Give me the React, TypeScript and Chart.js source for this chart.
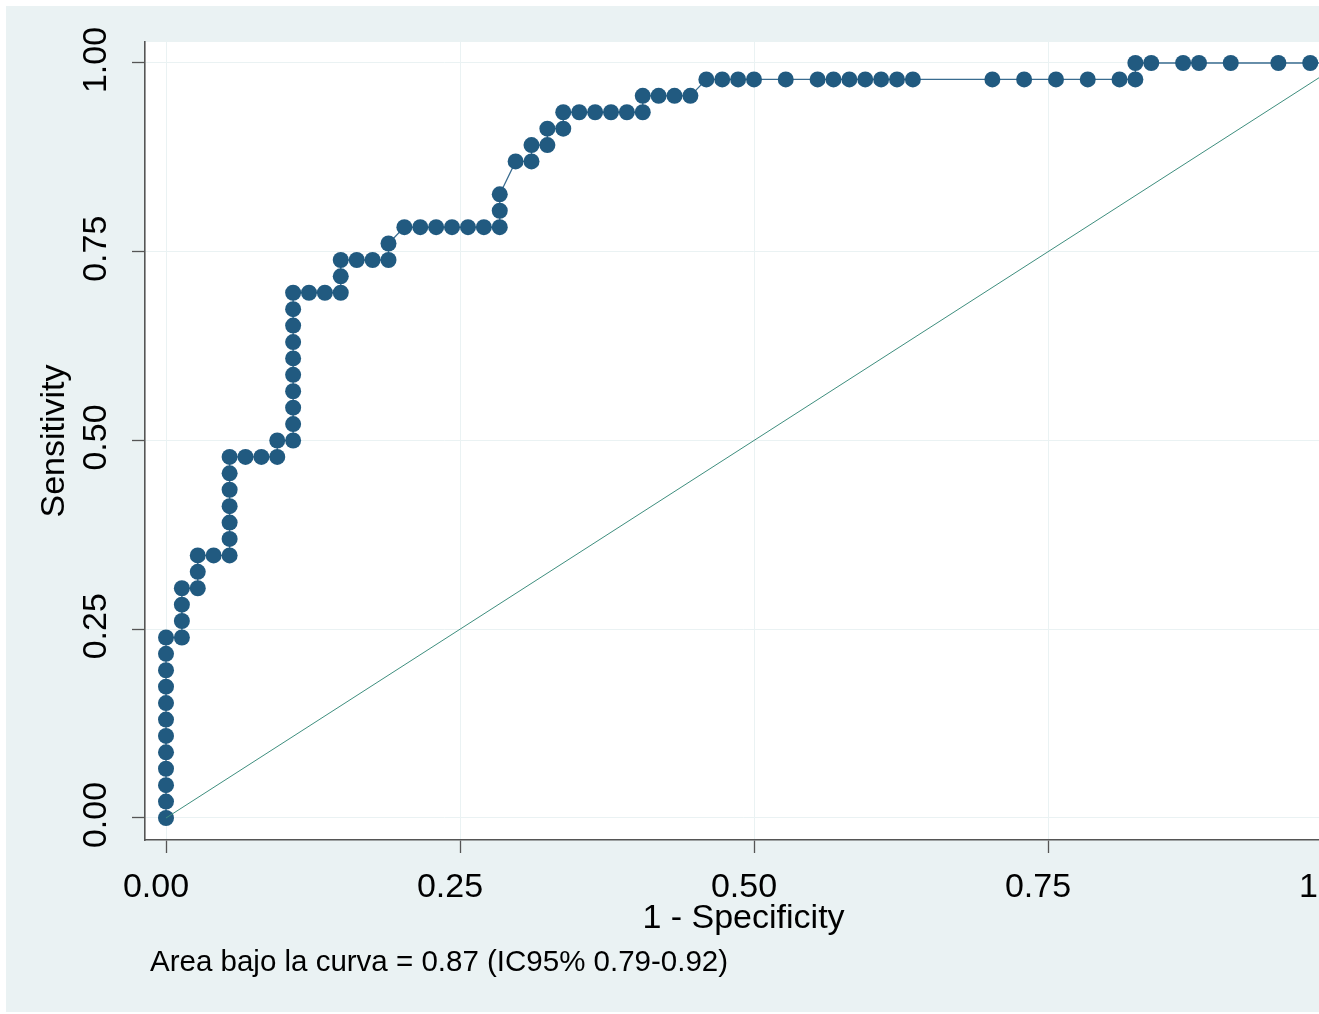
import React, { useEffect, useRef } from "react";
import { Chart, registerables } from "chart.js";

Chart.register(...registerables);

// 1 - Specificity (false positive rate) for each ROC point
const fpr: number[] = [
  0, 0, 0, 0, 0, 0, 0, 0, 0, 0, 0, 0,
  0.0135, 0.0135, 0.0135, 0.0135,
  0.027, 0.027, 0.027,
  0.0405,
  0.0541, 0.0541, 0.0541, 0.0541, 0.0541, 0.0541, 0.0541,
  0.0676, 0.0811,
  0.0946, 0.0946,
  0.1081, 0.1081, 0.1081, 0.1081, 0.1081, 0.1081, 0.1081, 0.1081, 0.1081, 0.1081,
  0.1216, 0.1351,
  0.1486, 0.1486, 0.1486,
  0.1622, 0.1757,
  0.1892, 0.1892,
  0.2027, 0.2162, 0.2297, 0.2432, 0.2568, 0.2703,
  0.2838, 0.2838, 0.2838,
  0.2973,
  0.3108, 0.3108,
  0.3243, 0.3243,
  0.3378, 0.3378,
  0.3514, 0.3649, 0.3784, 0.3919,
  0.4054, 0.4054,
  0.4189, 0.4324, 0.4459,
  0.4595,
  0.473, 0.4865, 0.5, 0.527, 0.5541, 0.5676, 0.5811, 0.5946, 0.6081, 0.6216, 0.6351,
  0.7027, 0.7297, 0.7568, 0.7838, 0.8108,
  0.8243, 0.8243,
  0.8378, 0.8649, 0.8784, 0.9054, 0.9459, 0.973, 1.0,
];

// Sensitivity for each ROC point
const sensitivity: number[] = [
  0, 0.0217, 0.0435, 0.0652, 0.087, 0.1087, 0.1304, 0.1522, 0.1739, 0.1957, 0.2174, 0.2391,
  0.2391, 0.2609, 0.2826, 0.3043,
  0.3043, 0.3261, 0.3478,
  0.3478,
  0.3478, 0.3696, 0.3913, 0.413, 0.4348, 0.4565, 0.4783,
  0.4783, 0.4783,
  0.4783, 0.5,
  0.5, 0.5217, 0.5435, 0.5652, 0.587, 0.6087, 0.6304, 0.6522, 0.6739, 0.6957,
  0.6957, 0.6957,
  0.6957, 0.7174, 0.7391,
  0.7391, 0.7391,
  0.7391, 0.7609,
  0.7826, 0.7826, 0.7826, 0.7826, 0.7826, 0.7826,
  0.7826, 0.8043, 0.8261,
  0.8696,
  0.8696, 0.8913,
  0.8913, 0.913,
  0.913, 0.9348,
  0.9348, 0.9348, 0.9348, 0.9348,
  0.9348, 0.9565,
  0.9565, 0.9565, 0.9565,
  0.9783,
  0.9783, 0.9783, 0.9783, 0.9783, 0.9783, 0.9783, 0.9783, 0.9783, 0.9783, 0.9783, 0.9783,
  0.9783, 0.9783, 0.9783, 0.9783, 0.9783,
  0.9783, 1.0,
  1.0, 1.0, 1.0, 1.0, 1.0, 1.0, 1.0,
];

// Reference (chance) line
const refX: number[] = [0, 1];
const refY: number[] = [0, 1];

const xTickValues: number[] = [0, 0.25, 0.5, 0.75, 1];
const xTickLabels: string[] = ["0.00", "0.25", "0.50", "0.75", "1.00"];
const yTickValues: number[] = [0, 0.25, 0.5, 0.75, 1];
const yTickLabels: string[] = ["0.00", "0.25", "0.50", "0.75", "1.00"];

const xTitle = "1 - Specificity";
const yTitle = "Sensitivity";
const footnote = "Area bajo la curva = 0.87 (IC95% 0.79-0.92)";

const FONT = '"Liberation Sans", Arial, Helvetica, sans-serif';

export default function App() {
  const canvasRef = useRef<HTMLCanvasElement | null>(null);

  useEffect(() => {
    const canvas = canvasRef.current;
    if (!canvas) return;
    Chart.defaults.font.family = FONT;
    Chart.defaults.color = "#000";

    const rocData = fpr.map((x, i) => ({ x, y: sensitivity[i] }));
    const refData = refX.map((x, i) => ({ x, y: refY[i] }));

    const bgPlugin = {
      id: "plotBg",
      beforeDraw(chart: any) {
        const { ctx, chartArea } = chart;
        ctx.save();
        ctx.fillStyle = "#ffffff";
        ctx.fillRect(
          chartArea.left,
          chartArea.top,
          chartArea.right - chartArea.left,
          chartArea.bottom - chartArea.top
        );
        ctx.restore();
      },
    };

    const notePlugin = {
      id: "note",
      afterDraw(chart: any) {
        const { ctx } = chart;
        ctx.save();
        ctx.font = `29.5px ${FONT}`;
        ctx.fillStyle = "#000";
        ctx.textAlign = "left";
        ctx.textBaseline = "middle";
        ctx.fillText(footnote, 150, 963);
        ctx.restore();
      },
    };

    const chart = new Chart(canvas, {
      type: "scatter",
      data: {
        datasets: [
          {
            label: "Reference",
            data: refData,
            showLine: true,
            borderColor: "#3E8E7E",
            borderWidth: 1,
            pointRadius: 0,
            pointHoverRadius: 0,
          },
          {
            label: "ROC",
            data: rocData,
            showLine: true,
            borderColor: "#3A6C90",
            borderWidth: 1.3,
            pointRadius: 8,
            pointHoverRadius: 8,
            pointBackgroundColor: "#215A80",
            pointBorderWidth: 0,
            clip: false,
          } as any,
        ],
      },
      options: {
        animation: false,
        responsive: false,
        events: [],
        layout: { padding: { left: 0, top: 42, right: 58, bottom: 0 } },
        plugins: {
          legend: { display: false },
          tooltip: { enabled: false },
        },
        scales: {
          x: {
            type: "linear",
            position: "bottom",
            min: -0.01786,
            max: 1,
            afterBuildTicks: (s: any) => {
              s.ticks = xTickValues.map((v) => ({ value: v }));
            },
            afterFit: (s: any) => {
              s.height = 174;
            },
            ticks: {
              autoSkip: false,
              maxRotation: 0,
              minRotation: 0,
              padding: 14,
              labelOffset: -10,
              color: "#000",
              font: { size: 34 },
              callback: (_v: any, i: number) => xTickLabels[i],
            },
            grid: {
              color: "#EAF2F3",
              lineWidth: 1,
              tickLength: 13,
              tickColor: "#555",
              tickWidth: 1.3,
            },
            border: { display: true, color: "#555", width: 1.6 },
            title: {
              display: true,
              text: xTitle,
              color: "#000",
              font: { size: 34 },
              padding: { top: 0, bottom: 75 },
            },
          },
          y: {
            type: "linear",
            position: "left",
            min: -0.02914,
            max: 1.02781,
            afterBuildTicks: (s: any) => {
              s.ticks = yTickValues.map((v) => ({ value: v }));
            },
            afterFit: (s: any) => {
              s.width = 145;
            },
            ticks: {
              autoSkip: false,
              minRotation: 90,
              maxRotation: 90,
              crossAlign: "center",
              padding: 2,
              labelOffset: -3,
              color: "#000",
              font: { size: 34 },
              callback: (_v: any, i: number) => yTickLabels[i],
            },
            grid: {
              color: "#EAF2F3",
              lineWidth: 1,
              tickLength: 13,
              tickColor: "#555",
              tickWidth: 1.3,
            },
            border: { display: true, color: "#555", width: 1.6 },
            title: {
              display: true,
              text: yTitle,
              color: "#000",
              font: { size: 34 },
              padding: { top: 34, bottom: 0 },
            },
          },
        },
      },
      plugins: [bgPlugin, notePlugin],
    });

    return () => {
      chart.destroy();
    };
  }, []);

  return (
    <div
      style={{
        position: "fixed",
        left: 0,
        top: 0,
        width: "1319px",
        height: "1014px",
        overflow: "hidden",
        background: "#ffffff",
      }}
    >
      <div
        style={{
          position: "absolute",
          left: "6px",
          top: "6px",
          width: "1400px",
          height: "1006px",
          background: "#EAF2F3",
        }}
      />
      <canvas
        ref={canvasRef}
        width={1400}
        height={1014}
        style={{ position: "absolute", left: 0, top: 0, width: "1400px", height: "1014px" }}
      />
    </div>
  );
}
